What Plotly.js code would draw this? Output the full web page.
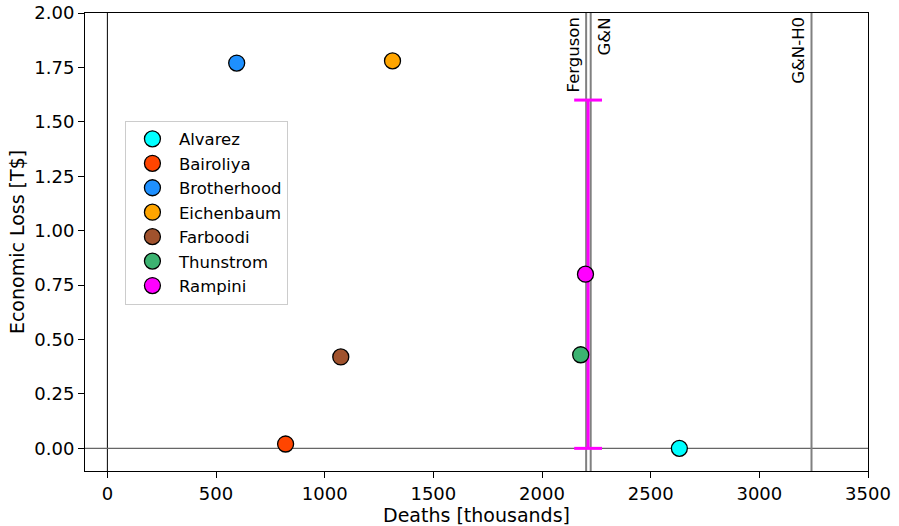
<!DOCTYPE html>
<html><head><meta charset="utf-8">
<script src="https://cdn.plot.ly/plotly-3.0.1.min.js"></script>
<style>body{margin:0;}#c{width:899px;height:526px;}</style>
</head><body><div id="c"></div>
<script>
const names = ["Alvarez","Bairoliya","Brotherhood","Eichenbaum","Farboodi","Thunstrom","Rampini"];
const deaths = [2632, 820, 595, 1312, 1074, 2178, 2200];
const losses = [0.0, 0.02, 1.77, 1.78, 0.42, 0.43, 0.80];
const colors = ["#00FFFF","#FF4500","#1E90FF","#FFA500","#A0522D","#3CB371","#FF00FF"];
const vlineNames = ["Ferguson","G&N","G&N-H0"];
const vlineX = [2203, 2224, 3240];
const vlineSide = ["left","right","left"];
const errX = 2212;
const errLow = 0.0;
const errHigh = 1.6;

const traces = [];
traces.push({x:[errX, errX], y:[errLow, errHigh], mode:'lines', line:{color:'#FF00FF', width:3}, showlegend:false, hoverinfo:'skip'});
names.forEach((n,i)=>{
  traces.push({x:[deaths[i]], y:[losses[i]], mode:'markers', name:n, type:'scatter', legendgroup:'g'+i,
    marker:{size:16, color:colors[i], line:{color:'black', width:1.3}}});
});

const shapes = [
  {type:'line', xref:'x', yref:'paper', x0:0, x1:0, y0:0, y1:1, line:{color:'black', width:1}, layer:'below'},
  {type:'line', xref:'paper', yref:'y', x0:0, x1:1, y0:0, y1:0, line:{color:'#666666', width:1.3}, layer:'below'},
];
vlineX.forEach(v=>shapes.push({type:'line', xref:'x', yref:'paper', x0:v, x1:v, y0:0, y1:1, line:{color:'#808080', width:2}, layer:'below'}));
[errLow, errHigh].forEach(v=>shapes.push({type:'line', xref:'x', yref:'y', x0:errX-64, x1:errX+64, y0:v, y1:v, line:{color:'#FF00FF', width:3}}));

const annotations = vlineNames.map((n,i)=>({
  x: vlineX[i], y: 0.995, xref:'x', yref:'paper', text:n, showarrow:false, textangle:-90,
  xanchor: vlineSide[i]==='left' ? 'right' : 'left', yanchor:'top',
  xshift: vlineSide[i]==='left' ? -1 : 2,
  font:{family:'DejaVu Sans', size:16.5, color:'black'}
}));

const layout = {
  width:899, height:526,
  margin:{l:85, r:31, t:13, b:55},
  paper_bgcolor:'white', plot_bgcolor:'white',
  font:{family:'DejaVu Sans', size:18, color:'black'},
  xaxis:{range:[-103,3500], showgrid:false, zeroline:false, showline:true, mirror:true, linecolor:'black', linewidth:1,
    ticks:'outside', ticklen:6, tickcolor:'black', tickvals:[0,500,1000,1500,2000,2500,3000,3500],
    tickfont:{size:18},
    title:{text:'Deaths [thousands]', font:{size:19}, standoff:2}},
  yaxis:{range:[-0.104,2.0], showgrid:false, zeroline:false, showline:true, mirror:true, linecolor:'black', linewidth:1,
    ticks:'outside', ticklen:6, tickcolor:'black', tickvals:[0,0.25,0.5,0.75,1,1.25,1.5,1.75,2], tickformat:'.2f',
    tickfont:{size:18},
    title:{text:'Economic Loss [T$]', font:{size:19}, standoff:4}},
  shapes: shapes,
  annotations: annotations,
  showlegend:true,
  legend:{x:0.051, y:0.765, xanchor:'left', yanchor:'top', bgcolor:'white', bordercolor:'#cccccc', borderwidth:1,
    font:{size:16.5}, itemwidth:43, tracegroupgap:0}
};
Plotly.newPlot('c', traces, layout, {displayModeBar:false});
</script></body></html>
